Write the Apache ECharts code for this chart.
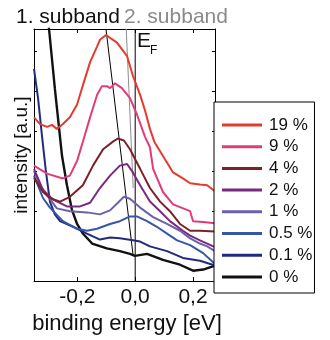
<!DOCTYPE html>
<html>
<head>
<meta charset="utf-8">
<script src="https://cdn.jsdelivr.net/npm/echarts@6/dist/echarts.min.js"></script>
<style>
html,body{margin:0;padding:0;background:#fff;}
#c{width:330px;height:340px;}
</style>
</head>
<body>
<div id="c"></div>
<script>
// ---- data (binding energy [eV], intensity [a.u.]) ----
var seriesNames = ['19 %', '9 %', '4 %', '2 %', '1 %', '0.5 %', '0.1 %', '0 %'];
var seriesColors = ['#e53a2e', '#e23b7a', '#7b2228', '#7a2a7e', '#6c61aa', '#3557a6', '#222a7e', '#111111'];

var d19 = [[-0.350,3.35],[-0.329,3.18],[-0.305,3.11],[-0.288,3.16],[-0.271,3.06],[-0.250,3.18],[-0.226,3.35],[-0.201,3.67],[-0.181,4.15],[-0.156,4.73],[-0.132,5.12],[-0.122,5.29],[-0.101,5.41],[-0.063,5.22],[-0.028,4.88],[-0.008,4.39],[0.017,3.91],[0.034,3.52],[0.051,3.06],[0.066,2.74],[0.096,2.38],[0.131,1.97],[0.165,1.82],[0.190,1.70],[0.224,1.67],[0.249,1.65],[0.270,1.53],[0.276,1.50]];
var d9 = [[-0.350,2.14],[-0.305,1.94],[-0.250,1.82],[-0.226,1.89],[-0.201,2.26],[-0.181,2.74],[-0.156,3.35],[-0.132,3.91],[-0.115,4.13],[-0.098,4.13],[-0.087,4.08],[-0.070,4.20],[-0.046,4.08],[-0.018,3.83],[0.006,3.42],[0.034,2.86],[0.051,2.60],[0.062,2.06],[0.096,1.48],[0.131,1.17],[0.190,1.00],[0.200,0.75],[0.235,0.73],[0.276,0.70]];
var d4 = [[-0.350,1.84],[-0.319,1.48],[-0.295,1.33],[-0.260,1.24],[-0.226,1.36],[-0.181,1.65],[-0.146,2.14],[-0.111,2.55],[-0.077,2.74],[-0.060,2.82],[-0.039,2.77],[-0.018,2.55],[0.017,2.06],[0.051,1.58],[0.086,1.24],[0.120,1.00],[0.155,0.68],[0.190,0.51],[0.224,0.51],[0.276,0.49]];
var d2 = [[-0.350,2.06],[-0.319,1.53],[-0.284,1.29],[-0.236,1.12],[-0.191,1.12],[-0.156,1.21],[-0.122,1.58],[-0.087,1.89],[-0.053,2.14],[-0.028,2.18],[-0.008,1.97],[0.017,1.65],[0.051,1.24],[0.086,1.00],[0.120,0.75],[0.165,0.51],[0.190,0.39],[0.224,0.27],[0.249,0.19],[0.276,0.10]];
var d1 = [[-0.350,2.01],[-0.329,1.65],[-0.305,1.41],[-0.271,1.07],[-0.226,1.00],[-0.167,0.97],[-0.122,0.92],[-0.087,1.02],[-0.060,1.21],[-0.039,1.36],[-0.018,1.31],[0.017,1.09],[0.062,0.85],[0.110,0.68],[0.155,0.51],[0.190,0.32],[0.224,0.19],[0.249,0.12],[0.276,0.00]];
var d05 = [[-0.350,1.89],[-0.319,1.33],[-0.295,1.09],[-0.250,0.75],[-0.201,0.56],[-0.167,0.51],[-0.132,0.56],[-0.087,0.68],[-0.053,0.75],[-0.018,0.87],[0.006,0.87],[0.041,0.75],[0.075,0.61],[0.110,0.44],[0.145,0.27],[0.190,0.15],[0.235,-0.05],[0.276,-0.32]];
var d01 = [[-0.350,4.56],[-0.336,3.83],[-0.322,2.86],[-0.309,2.01],[-0.295,1.24],[-0.278,0.92],[-0.260,0.75],[-0.215,0.61],[-0.167,0.44],[-0.122,0.29],[-0.087,0.34],[-0.053,0.32],[-0.008,0.27],[0.017,0.24],[0.051,0.12],[0.110,0.00],[0.165,-0.17],[0.224,-0.24],[0.276,-0.36]];
var d0 = [[-0.305,6.04],[-0.298,5.56],[-0.278,4.08],[-0.253,2.38],[-0.236,1.65],[-0.219,1.04],[-0.201,0.68],[-0.181,0.44],[-0.149,0.19],[-0.098,0.07],[-0.053,0.00],[-0.018,-0.07],[-0.001,-0.12],[0.041,-0.07],[0.096,-0.22],[0.155,-0.34],[0.200,-0.49],[0.235,-0.46],[0.276,-0.36]];

// guide lines: dispersion of 1st and 2nd subband, Fermi level
var subband1Line = [[-0.101,5.56],[-0.007,-0.12]];
var subband2Line = [[-0.031,5.56],[-0.007,1.58]];
var fermiLine = [[0,-0.75],[0,5.56]];

var xTicks = [-0.2, 0, 0.2];
var yTicks = [1, 2, 3, 4, 5];

var xMin = -0.35, xMax = 0.276, yMin = -0.75, yMax = 5.56;

var FONT = 'Liberation Sans, Arial, sans-serif';
var chart = echarts.init(document.getElementById('c'), null, {renderer: 'canvas'});

var dataSets = [d19, d9, d4, d2, d1, d05, d01, d0];
var series = [];
series.push({type:'line', data: subband2Line, showSymbol:false, silent:true, lineStyle:{color:'#8c8c8c', width:1}, z:1});
series.push({type:'line', data: subband1Line, showSymbol:false, silent:true, lineStyle:{color:'#000', width:1}, z:1});
series.push({type:'line', data: fermiLine, showSymbol:false, silent:true, lineStyle:{color:'#000', width:1}, z:1});
for (var i = dataSets.length - 1; i >= 0; i--) {
  series.push({
    name: seriesNames[i], type: 'line', data: dataSets[i], showSymbol: false,
    color: seriesColors[i], lineStyle: {color: seriesColors[i], width: (i === 7 ? 2.4 : 2)},
    clip: true, z: 2
  });
}

var axisLineStyle = {show:true, onZero:false, lineStyle:{color:'#000', width:1}};
var option = {
  animation: false,
  backgroundColor: '#fff',
  grid: {left: 34, right: 115, top: 29, bottom: 51, containLabel: false},
  xAxis: [{
    type:'value', min:xMin, max:xMax, position:'bottom',
    axisLine: axisLineStyle, splitLine:{show:false},
    axisTick:{show:true, inside:true, length:4, customValues: xTicks, lineStyle:{color:'#000'}},
    axisLabel:{show:true, customValues: xTicks, margin:6, color:'#111', fontFamily:FONT, fontSize:21,
      formatter:function(v){ return v.toFixed(1).replace('.', ','); }},
    name:'binding energy [eV]', nameLocation:'middle', nameGap:24,
    nameTextStyle:{color:'#111', fontFamily:FONT, fontSize:22, padding:[0,0,0,5]}
  },{
    type:'value', min:xMin, max:xMax, position:'top',
    axisLine: axisLineStyle, splitLine:{show:false},
    axisTick:{show:true, inside:true, length:4, customValues: xTicks, lineStyle:{color:'#000'}},
    axisLabel:{show:false}
  }],
  yAxis: [{
    type:'value', min:yMin, max:yMax, position:'left',
    axisLine: axisLineStyle, splitLine:{show:false},
    axisTick:{show:true, inside:true, length:3, customValues: yTicks, lineStyle:{color:'#000'}},
    axisLabel:{show:false},
    name:'intensity [a.u.]', nameLocation:'middle', nameGap:3,
    nameTextStyle:{color:'#111', fontFamily:FONT, fontSize:19}
  },{
    type:'value', min:yMin, max:yMax, position:'right',
    axisLine: axisLineStyle, splitLine:{show:false},
    axisTick:{show:true, inside:true, length:3, customValues: yTicks, lineStyle:{color:'#000'}},
    axisLabel:{show:false}
  }],
  legend: {
    data: seriesNames, orient:'vertical', left:214, top:102,
    padding:[14.5, 2, 7.6, 8], itemGap:4.7, itemWidth:40, itemHeight:3, icon:'rect',
    backgroundColor:'#fff', borderColor:'#000', borderWidth:1, borderRadius:0,
    textStyle:{color:'#111', fontFamily:FONT, fontSize:17, lineHeight:17, padding:[0,0,0,2]},
    selectedMode:false
  },
  graphic: [
    {type:'text', left:16, top:7, style:{text:'1. subband', fill:'#111', font:'21px ' + FONT}},
    {type:'text', left:124, top:7, style:{text:'2. subband', fill:'#8a8a8a', font:'21px ' + FONT}},
    {type:'text', left:137, top:31, style:{text:'E', fill:'#111', font:'21px ' + FONT}},
    {type:'text', left:150, top:45, style:{text:'F', fill:'#111', font:'12px ' + FONT}}
  ],
  series: series
};
chart.setOption(option);
</script>
</body>
</html>
